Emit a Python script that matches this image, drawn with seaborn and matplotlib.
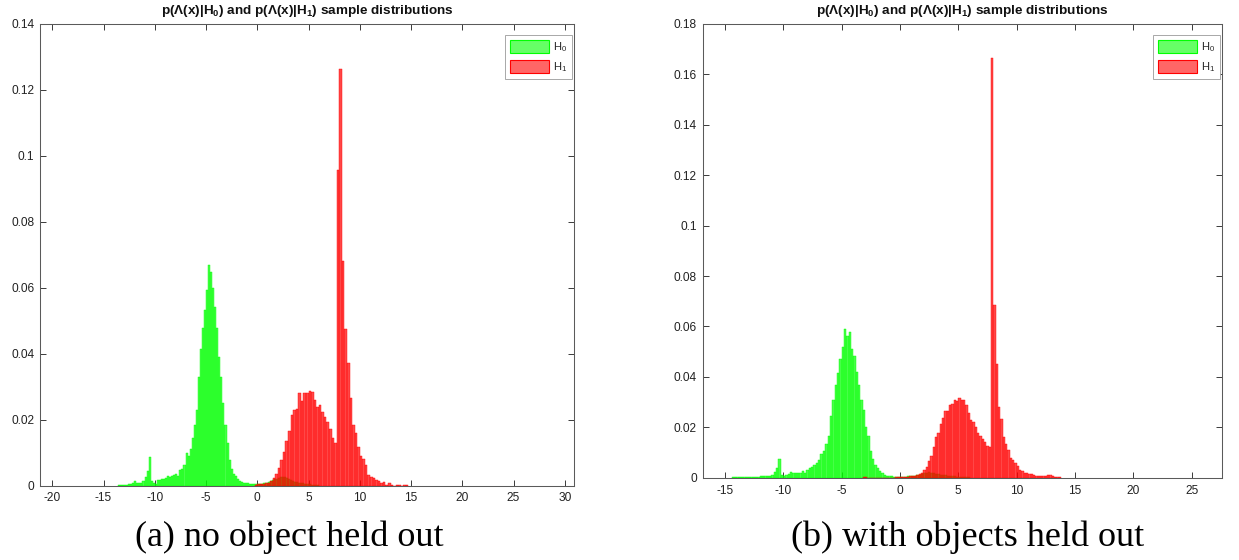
import numpy as np
import pandas as pd
import matplotlib
matplotlib.use("Agg")
import matplotlib.pyplot as plt
import seaborn as sns
from matplotlib.patches import Patch

# ---------------- data: sample distributions (bar heights = probability per bin) ----------------
# (a) no object held out
a_h0_first_edge, a_h0_bin = -13.6, 0.2
a_h0 = [0.0002, 0.0002, 0.0002, 0.0003, 0.0003, 0.0004, 0.0005, 0.0007, 0.0015, 0.0007,
        0.0007, 0.0009, 0.0015, 0.0025, 0.0044, 0.0086, 0.0015, 0.0008, 0.0006, 0.0017,
        0.0017, 0.0021, 0.0019, 0.0024, 0.0029, 0.0027, 0.0029, 0.0032, 0.0036, 0.0029,
        0.0048, 0.0050, 0.0061, 0.0099, 0.0089, 0.0112, 0.0145, 0.0185, 0.0228, 0.0330,
        0.0415, 0.0477, 0.0533, 0.0594, 0.0668, 0.0647, 0.0599, 0.0543, 0.0479, 0.0389,
        0.0330, 0.0249, 0.0183, 0.0129, 0.0076, 0.0050, 0.0036, 0.0028, 0.0020, 0.0015,
        0.0012, 0.0009, 0.0008, 0.0007, 0.0006, 0.0005, 0.0005, 0.0005, 0.0005, 0.0005,
        0.0006, 0.0007, 0.0009, 0.0011, 0.0013, 0.0016, 0.0019, 0.0021, 0.0024, 0.0026,
        0.0027, 0.0025, 0.0023, 0.0020, 0.0017, 0.0014, 0.0012, 0.0010, 0.0009, 0.0008,
        0.0007, 0.0006, 0.0005, 0.0004, 0.0003, 0.0003, 0.0002, 0.0002]
a_h1_first_edge, a_h1_bin = -0.25, 0.25
a_h1 = [0.0003, 0.0005, 0.0005, 0.0006, 0.0007, 0.0009, 0.0013, 0.0023, 0.0036, 0.0054,
        0.0076, 0.0102, 0.0135, 0.0165, 0.0214, 0.0228, 0.0233, 0.0282, 0.0257, 0.0281,
        0.0281, 0.0287, 0.0285, 0.0259, 0.0238, 0.0243, 0.0223, 0.0208, 0.0193, 0.0170,
        0.0143, 0.0129, 0.0957, 0.1262, 0.0681, 0.0475, 0.0373, 0.0264, 0.0185, 0.0160,
        0.0117, 0.0089, 0.0080, 0.0061, 0.0031, 0.0025, 0.0023, 0.0017, 0.0013, 0.0007,
        0.0010, 0.0003, 0.0007, 0.0003, 0.0000, 0.0003, 0.0003, 0.0000, 0.0003, 0.0003]

# (b) with objects held out
b_h0_first_edge, b_h0_bin = -14.4, 0.2
b_h0 = [0.0002, 0.0002, 0.0001, 0.0002, 0.0003, 0.0003, 0.0003, 0.0002, 0.0003, 0.0003,
        0.0003, 0.0004, 0.0005, 0.0006, 0.0006, 0.0008, 0.0008, 0.0009, 0.0023, 0.0037,
        0.0073, 0.0010, 0.0008, 0.0010, 0.0014, 0.0022, 0.0019, 0.0018, 0.0018, 0.0017,
        0.0026, 0.0017, 0.0031, 0.0037, 0.0041, 0.0051, 0.0059, 0.0071, 0.0094, 0.0106,
        0.0133, 0.0166, 0.0243, 0.0307, 0.0369, 0.0416, 0.0469, 0.0519, 0.0588, 0.0564,
        0.0577, 0.0511, 0.0482, 0.0421, 0.0369, 0.0310, 0.0270, 0.0203, 0.0164, 0.0107,
        0.0073, 0.0050, 0.0037, 0.0028, 0.0019, 0.0010, 0.0008, 0.0005, 0.0006, 0.0003,
        0.0002, 0.0002, 0.0002, 0.0003, 0.0004, 0.0005, 0.0005, 0.0006, 0.0008, 0.0010,
        0.0012, 0.0015, 0.0018, 0.0020, 0.0021, 0.0020, 0.0018, 0.0016, 0.0014, 0.0012,
        0.0010, 0.0009, 0.0008, 0.0007, 0.0006, 0.0005, 0.0004, 0.0004, 0.0003, 0.0003,
        0.0002, 0.0002]
b_h1_first_edge, b_h1_bin = -3.2, 0.2
b_h1 = [0.0004, 0.0004, 0.0000, 0.0000, 0.0000, 0.0000, 0.0000, 0.0000, 0.0000, 0.0000,
        0.0000, 0.0000, 0.0000, 0.0000, 0.0002, 0.0002, 0.0003, 0.0003, 0.0004, 0.0004,
        0.0005, 0.0006, 0.0008, 0.0012, 0.0014, 0.0019, 0.0031, 0.0044, 0.0067, 0.0086,
        0.0121, 0.0160, 0.0177, 0.0214, 0.0236, 0.0266, 0.0266, 0.0288, 0.0292, 0.0307,
        0.0303, 0.0317, 0.0310, 0.0310, 0.0288, 0.0257, 0.0227, 0.0219, 0.0200, 0.0179,
        0.0164, 0.0152, 0.0143, 0.0126, 0.0123, 0.1664, 0.0685, 0.0453, 0.0280, 0.0232,
        0.0160, 0.0133, 0.0110, 0.0077, 0.0071, 0.0057, 0.0046, 0.0031, 0.0028, 0.0019,
        0.0017, 0.0014, 0.0014, 0.0009, 0.0006, 0.0006, 0.0006, 0.0006, 0.0006, 0.0010,
        0.0010, 0.0006, 0.0004, 0.0004, 0.0003]

a_xticks = [-20, -15, -10, -5, 0, 5, 10, 15, 20, 25, 30]
a_yticks = [0, 0.02, 0.04, 0.06, 0.08, 0.10, 0.12, 0.14]
a_ylabels = ["0", "0.02", "0.04", "0.06", "0.08", "0.1", "0.12", "0.14"]
b_xticks = [-15, -10, -5, 0, 5, 10, 15, 20, 25]
b_yticks = [0, 0.02, 0.04, 0.06, 0.08, 0.10, 0.12, 0.14, 0.16, 0.18]
b_ylabels = ["0", "0.02", "0.04", "0.06", "0.08", "0.1", "0.12", "0.14", "0.16", "0.18"]

title_text = "p(Λ(x)|H$_0$) and p(Λ(x)|H$_1$) sample distributions"
captions = ["(a) no object held out", "(b) with objects held out"]
legend_labels = ["H$_0$", "H$_1$"]

# ---------------- style ----------------
sns.set_theme(style="white")
plt.rcParams.update({
    "font.family": ["Liberation Sans", "DejaVu Sans"],
    "mathtext.default": "regular",
    "axes.edgecolor": "#5a5a5a",
    "axes.linewidth": 0.75,
    "xtick.direction": "in", "ytick.direction": "in",
    "xtick.bottom": True, "xtick.top": True,
    "ytick.left": True, "ytick.right": True,
    "xtick.major.size": 4.5, "ytick.major.size": 4.5,
    "xtick.major.width": 0.7, "ytick.major.width": 0.7,
    "xtick.color": "#3a3a3a", "ytick.color": "#3a3a3a",
    "xtick.labelcolor": "#222222", "ytick.labelcolor": "#222222",
    "xtick.labelsize": 8.6, "ytick.labelsize": 8.6,
    "xtick.major.pad": 5.0, "ytick.major.pad": 4.2,
})

GREEN = (0.0, 1.0, 0.0)
RED = (1.0, 0.0, 0.0)

fig = plt.figure(figsize=(12.39, 5.60), dpi=100)
W, H = 1239.0, 560.0


def px_axes(left, top, right, bottom):
    return fig.add_axes([left / W, 1 - bottom / H, (right - left) / W, (bottom - top) / H])


def draw_hist(ax, first_edge, width, heights, color):
    n = len(heights)
    lo = first_edge
    hi = first_edge + width * n
    centers = first_edge + width * (np.arange(n) + 0.5)
    df = pd.DataFrame({"value": centers, "prob": heights})
    sns.histplot(data=df, x="value", weights="prob", binwidth=width, binrange=(lo, hi),
                 stat="count", color=color, alpha=0.72, edgecolor=color,
                 linewidth=0.3, ax=ax)


panels = [
    dict(box=(40.0, 24.0, 574.0, 485.5), xlim=(-21.2, 30.9), ylim=(0, 0.14),
         xticks=a_xticks, yticks=a_yticks, ylabels=a_ylabels,
         h0=(a_h0_first_edge, a_h0_bin, a_h0), h1=(a_h1_first_edge, a_h1_bin, a_h1),
         caption=captions[0], cap_x=289),
    dict(box=(702.5, 24.0, 1222.0, 477.7), xlim=(-16.91, 27.6), ylim=(0, 0.18),
         xticks=b_xticks, yticks=b_yticks, ylabels=b_ylabels,
         h0=(b_h0_first_edge, b_h0_bin, b_h0), h1=(b_h1_first_edge, b_h1_bin, b_h1),
         caption=captions[1], cap_x=968),
]

for p in panels:
    ax = px_axes(*p["box"])
    draw_hist(ax, *p["h0"], GREEN)
    draw_hist(ax, *p["h1"], RED)
    ax.set_xlim(*p["xlim"])
    ax.set_ylim(*p["ylim"])
    ax.set_xticks(p["xticks"])
    ax.set_xticklabels([str(t) for t in p["xticks"]])
    ax.set_yticks(p["yticks"])
    ax.set_yticklabels(p["ylabels"])
    ax.set_xlabel("")
    ax.set_ylabel("")
    for s in ax.spines.values():
        s.set_visible(True)
    ax.set_title(title_text, fontsize=9.7, fontweight="bold", pad=7, color="#111111")

    handles = [Patch(facecolor=(0.4, 1.0, 0.4), edgecolor=GREEN, linewidth=0.8),
               Patch(facecolor=(1.0, 0.4, 0.4), edgecolor=RED, linewidth=0.8)]
    l, t, r, b = p["box"]
    leg = ax.legend(handles, legend_labels, loc="upper right",
                    bbox_to_anchor=((r - 2.3 - l) / (r - l), (b - 35.0) / (b - t)),
                    borderaxespad=0.0, fontsize=8.0, handlelength=3.5, handleheight=1.45,
                    handletextpad=0.3, labelspacing=0.5, borderpad=0.45,
                    fancybox=False, framealpha=1.0, edgecolor="#9a9a9a")
    leg.get_frame().set_linewidth(0.6)

    fig.text(p["cap_x"] / W, 1 - 537 / H, p["caption"], family=["Liberation Serif"],
             fontsize=26, ha="center", va="center", color="black")

fig.savefig("out.png", dpi=100)
